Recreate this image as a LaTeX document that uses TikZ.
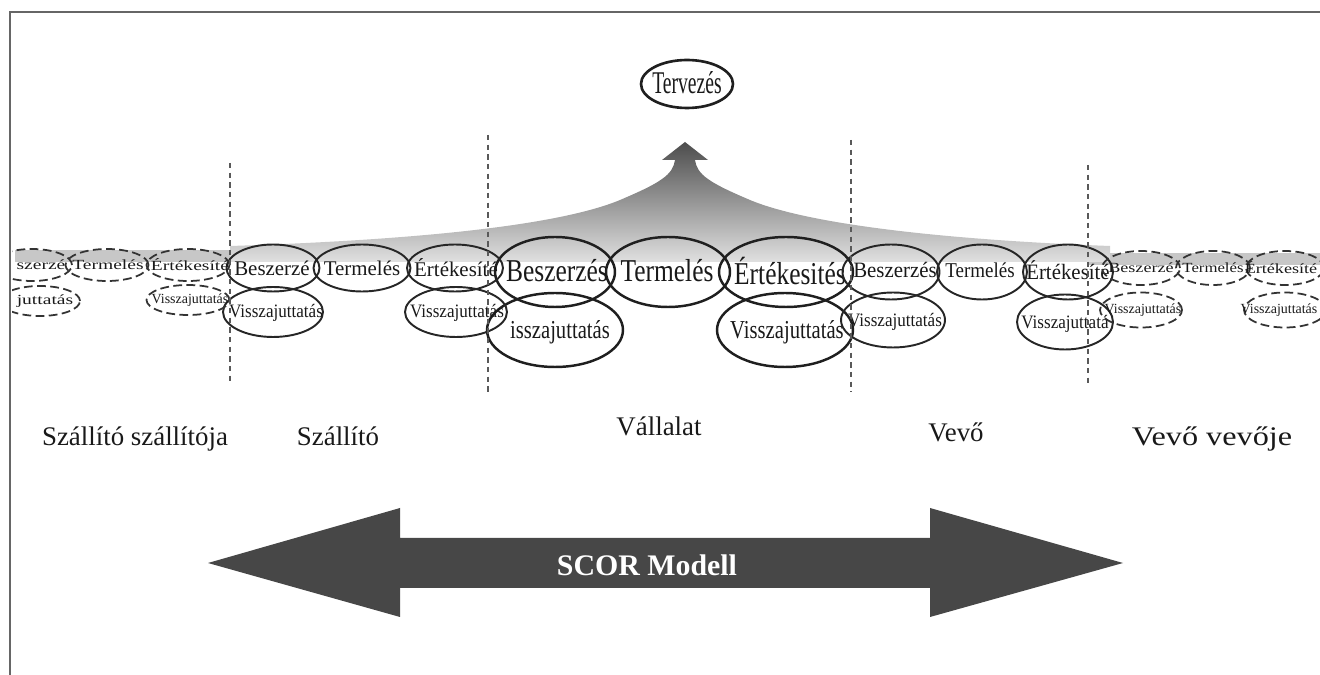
\documentclass[tikz,border=0pt]{standalone}
\usepackage{fontspec}
\setmainfont{Liberation Serif}
\usepackage{graphicx}
\usetikzlibrary{shapes.geometric}
\newcommand{\tx}[3]{\scalebox{#1}[1]{\fontsize{#2pt}{#2pt}\selectfont #3}}
\tikzset{
 ell/.style={ellipse, draw=black!88, line width=1.4pt, inner sep=0pt},
 ells/.style={ellipse, draw=black!85, line width=1.1pt, inner sep=0pt},
 elld/.style={ellipse, draw=black!80, line width=1pt, dash pattern=on 5pt off 2.5pt, inner sep=0pt},
 lbl/.style={inner sep=0pt, text=black!90},
 sect/.style={inner sep=0pt, anchor=base, text=black!90, font=\fontsize{15.3pt}{15.3pt}\selectfont},
 sepline/.style={draw=black!65, line width=0.9pt, dash pattern=on 3pt off 2.5pt},
}
\begin{document}
\begin{tikzpicture}[x=0.02cm, y=-0.02cm]
\useasboundingbox (0,0) rectangle (1320,675);
% frame
\coordinate (f1) at (10,675); \coordinate (f2) at (10,12); \coordinate (f3) at (1320,12);
\draw[black!60, line width=0.9pt] (f1) -- (f2) -- (f3);
% grey band and bell arrow
\fill[black!22] (15,250) rectangle (230,262);
\fill[black!22] (1088,253) rectangle (1320,265);
\shade[top color=black!70, bottom color=black!12]
 (230,262) -- (230,246) .. controls (420,240) and (560,225) .. (620,200)
 .. controls (660,183) and (673,175) .. (675,160) -- (662,160) -- (685,142)
 -- (708,160) -- (695,160) .. controls (697,175) and (710,183) .. (750,200)
 .. controls (810,225) and (950,240) .. (1110,246) -- (1110,262) -- cycle;
% Tervezés
\node[ell, line width=1.5pt, minimum width=1.84cm, minimum height=0.96cm] (plan) at (687,84) {};
\node[lbl] (plant) at (687,83) {\tx{0.62}{18}{Tervezés}};
% centre (Vállalat)
\node[ell, minimum width=2.4cm, minimum height=1.4cm] (bc) at (555,272) {};
\node[ell, minimum width=2.48cm, minimum height=1.4cm] (tc) at (668,272) {};
\node[ell, minimum width=2.68cm, minimum height=1.4cm] (ec) at (786,272) {};
\node[ell, minimum width=2.72cm, minimum height=1.48cm] (v1c) at (555,330) {};
\node[ell, minimum width=2.72cm, minimum height=1.48cm] (v2c) at (785,330) {};
\node[lbl] (bct) at (557,271) {\tx{0.8}{18.1}{Beszerzés}};
\node[lbl] (tct) at (667,271) {\tx{0.8}{18.1}{Termelés}};
\node[lbl] (ect) at (790,271) {\tx{0.8}{18.1}{Értékesités}};
\node[lbl] (v1ct) at (560,332) {\tx{0.8}{14.7}{isszajuttatás}};
\node[lbl] (v2ct) at (787,332) {\tx{0.8}{14.7}{Visszajuttatás}};
% Szállító
\node[ells, minimum width=1.86cm, minimum height=0.94cm] (bs) at (273,268) {};
\node[ells, minimum width=1.94cm, minimum height=0.94cm] (ts) at (362,268) {};
\node[ells, minimum width=1.92cm, minimum height=0.94cm] (es) at (455,268) {};
\node[ells, minimum width=2.0cm, minimum height=1.0cm] (v1s) at (273,312) {};
\node[ells, minimum width=2.04cm, minimum height=1.0cm] (v2s) at (456,312) {};
\node[lbl] (bst) at (272,268) {\tx{1.0}{11.9}{Beszerzé}};
\node[lbl] (tst) at (362,268) {\tx{1.0}{11.9}{Termelés}};
\node[lbl] (est) at (456,268) {\tx{1.0}{11.9}{Értékesíté}};
\node[lbl] (v1st) at (276,313) {\tx{0.9}{10.8}{Visszajuttatás}};
\node[lbl] (v2st) at (457,313) {\tx{0.9}{10.8}{Visszajuttatás}};
% Vevő
\node[ells, minimum width=1.94cm, minimum height=1.1cm] (bv) at (891,272) {};
\node[ells, minimum width=1.8cm, minimum height=1.1cm] (tv) at (982,272) {};
\node[ells, minimum width=1.8cm, minimum height=1.1cm] (ev) at (1068,272) {};
\node[ells, minimum width=2.08cm, minimum height=1.1cm] (v1v) at (893,320) {};
\node[ells, minimum width=1.92cm, minimum height=1.1cm] (v2v) at (1065,322) {};
\node[lbl] (bvt) at (895,270) {\tx{0.95}{12.5}{Beszerzés}};
\node[lbl] (tvt) at (980,270) {\tx{0.9}{12}{Termelés}};
\node[lbl] (evt) at (1068,270) {\tx{0.95}{12.5}{Értékesíté}};
\node[lbl] (v1vt) at (895,322) {\tx{0.9}{10.8}{Visszajuttatás}};
\node[lbl] (v2vt) at (1065,324) {\tx{0.9}{10.8}{Visszajuttatá}};
% outer sections (clipped at frame)
\begin{scope}
\clip (12,0) rectangle (1320,675);
\node[elld, minimum width=1.6cm, minimum height=0.64cm] (bo1) at (32,265) {};
\node[elld, minimum width=1.66cm, minimum height=0.64cm] (to1) at (107,265) {};
\node[elld, minimum width=1.66cm, minimum height=0.64cm] (eo1) at (188,265) {};
\node[elld, minimum width=1.6cm, minimum height=0.6cm] (v1o1) at (40,301) {};
\node[elld, minimum width=1.66cm, minimum height=0.6cm] (v2o1) at (188,300) {};
\node[elld, minimum width=1.56cm, minimum height=0.68cm] (bo2) at (1141,268) {};
\node[elld, minimum width=1.48cm, minimum height=0.68cm] (to2) at (1213,268) {};
\node[elld, minimum width=1.56cm, minimum height=0.68cm] (eo2) at (1285,268) {};
\node[elld, minimum width=1.64cm, minimum height=0.7cm] (v1o2) at (1141,310) {};
\node[elld, minimum width=1.64cm, minimum height=0.7cm] (v2o2) at (1285,310) {};
\end{scope}
\node[lbl] (bo1t) at (41,265) {\tx{1.4}{7.94}{szerzé}};
\node[lbl] (to1t) at (108,265) {\tx{1.4}{7.94}{Termelés}};
\node[lbl] (eo1t) at (190,265) {\tx{1.4}{7.94}{Értékesíté}};
\node[lbl] (v1o1t) at (45,301) {\tx{1.4}{7.94}{juttatás}};
\node[lbl] (v2o1t) at (190,300) {\tx{1.0}{7.94}{Visszajuttatás}};
\node[lbl] (bo2t) at (1141,268) {\tx{1.3}{7.94}{Beszerzé}};
\node[lbl] (to2t) at (1213,268) {\tx{1.2}{7.94}{Termelés}};
\node[lbl] (eo2t) at (1281,268) {\tx{1.3}{7.94}{Értékesíté}};
\node[lbl] (v1o2t) at (1143,310) {\tx{1.0}{7.94}{Visszajuttatás}};
\node[lbl] (v2o2t) at (1279,310) {\tx{1.0}{7.94}{Visszajuttatás}};
% separators
\coordinate (s1t) at (230,163); \coordinate (s1b) at (230,385);
\coordinate (s2t) at (488,135); \coordinate (s2b) at (488,395);
\coordinate (s3t) at (851,140); \coordinate (s3b) at (851,392);
\coordinate (s4t) at (1088,165); \coordinate (s4b) at (1088,385);
\draw[sepline] (s1t) -- (s1b);
\draw[sepline] (s2t) -- (s2b);
\draw[sepline] (s3t) -- (s3b);
\draw[sepline] (s4t) -- (s4b);
% section labels
\node[sect] (l1) at (135,446) {Szállító szállítója};
\node[sect] (l2) at (338,446) {Szállító};
\node[sect] (l3) at (659,436) {Vállalat};
\node[sect] (l4) at (956,442) {Vevő};
\node[sect] (l5) at (1212,446) {\scalebox{1.2}[1]{Vevő vevője}};
% SCOR double arrow
\fill[black!72] (208,563) -- (400,508) -- (400,538) -- (930,538) -- (930,508) -- (1123,563)
 -- (930,617) -- (930,588) -- (400,588) -- (400,617) -- cycle;
\node[inner sep=0pt, text=white, font=\bfseries\fontsize{17pt}{17pt}\selectfont] (scor) at (647,565) {SCOR Modell};
\end{tikzpicture}
\end{document}
